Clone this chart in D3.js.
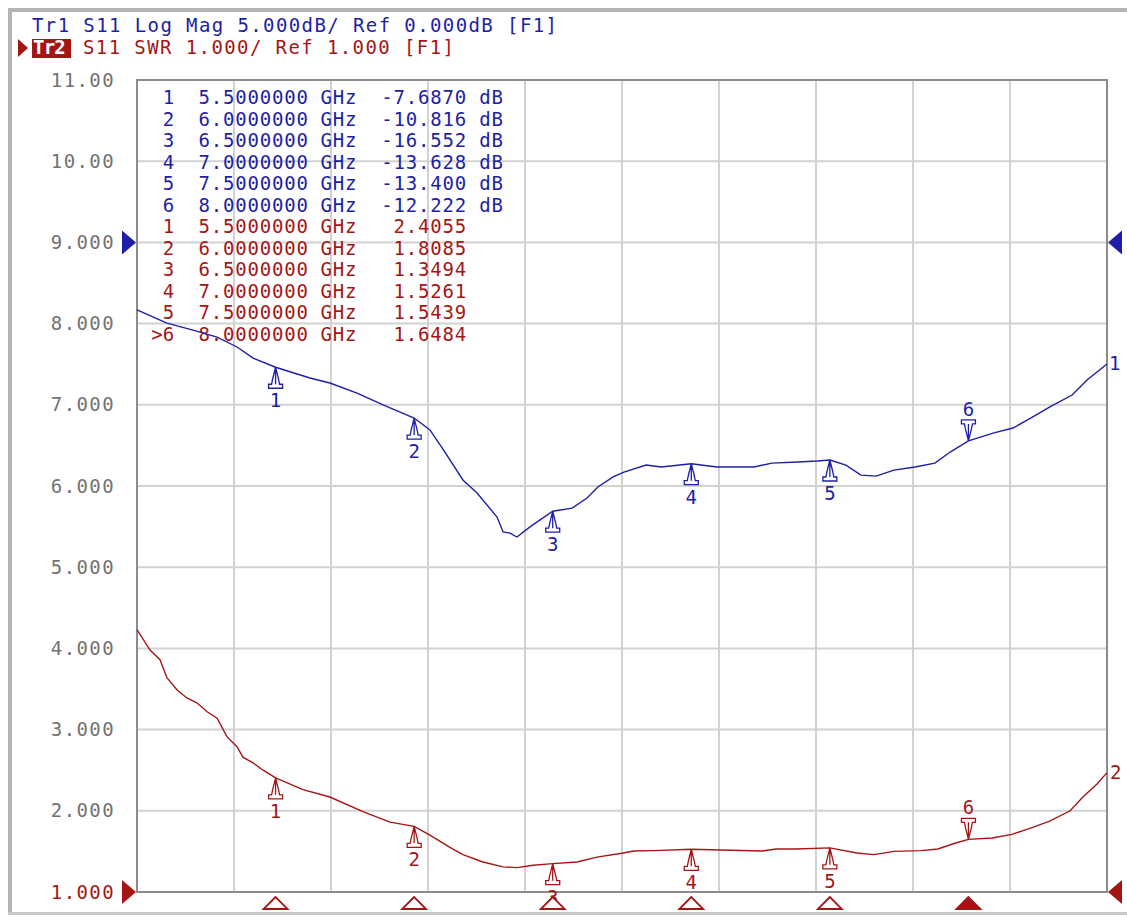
<!DOCTYPE html>
<html>
<head>
<meta charset="utf-8">
<script src="https://cdn.jsdelivr.net/npm/d3@7"></script>
<style>
  body { margin: 0; background: #fff; }
  svg text { font-family: "DejaVu Sans Mono", "Liberation Mono", monospace; white-space: pre; }
</style>
</head>
<body>
<div id="vna"></div>
<script>
const tr1Freq = [5.000, 5.108, 5.202, 5.289, 5.361, 5.419, 5.500, 5.624, 5.696, 5.794, 5.888, 6.000,
  6.057, 6.104, 6.176, 6.227, 6.299, 6.321, 6.346, 6.371, 6.418, 6.500, 6.570, 6.624, 6.663, 6.718,
  6.757, 6.837, 6.891, 7.000, 7.093, 7.226, 7.291, 7.385, 7.454, 7.500, 7.558, 7.612, 7.667, 7.731,
  7.807, 7.879, 7.934, 8.000, 8.092, 8.161, 8.226, 8.294, 8.374, 8.428, 8.500];
const tr1Db = [-4.16, -4.97, -5.40, -5.83, -6.44, -7.12, -7.687, -8.35, -8.66, -9.28, -10.01, -10.816,
  -11.55, -12.73, -14.63, -15.43, -16.91, -17.83, -17.90, -18.14, -17.52, -16.552, -16.36, -15.74, -15.06, -14.44,
  -14.14, -13.71, -13.83, -13.628, -13.83, -13.83, -13.59, -13.52, -13.46, -13.400, -13.71, -14.33, -14.39, -14.02,
  -13.83, -13.59, -12.91, -12.222, -11.73, -11.43, -10.81, -10.13, -9.40, -8.47, -7.49];

// trace 2: S11 SWR
const tr2Freq = [5.000, 5.047, 5.083, 5.108, 5.144, 5.180, 5.216, 5.253, 5.289, 5.325, 5.361, 5.382,
  5.419, 5.455, 5.500, 5.599, 5.696, 5.815, 5.913, 6.000, 6.057, 6.129, 6.176, 6.248, 6.321, 6.371,
  6.429, 6.500, 6.588, 6.660, 6.754, 6.793, 6.865, 7.000, 7.255, 7.306, 7.378, 7.500, 7.598, 7.659,
  7.731, 7.829, 7.890, 7.951, 8.000, 8.085, 8.157, 8.219, 8.291, 8.367, 8.413, 8.464, 8.500];
const tr2Swr = [4.23, 3.98, 3.86, 3.64, 3.49, 3.39, 3.33, 3.22, 3.14, 2.91, 2.79, 2.66,
  2.59, 2.50, 2.4055, 2.26, 2.17, 1.99, 1.86, 1.8085, 1.70, 1.55, 1.46, 1.37, 1.31, 1.30,
  1.33, 1.3494, 1.37, 1.43, 1.48, 1.505, 1.51, 1.5261, 1.505, 1.53, 1.53, 1.5439, 1.48, 1.46,
  1.50, 1.51, 1.53, 1.60, 1.6484, 1.665, 1.71, 1.78, 1.87, 2.00, 2.17, 2.33, 2.47];

// markers
const markerNum = ["1", "2", "3", "4", "5", "6"];
const markerFreq = [5.5, 6.0, 6.5, 7.0, 7.5, 8.0];
const markerFreqText = ["5.5000000", "6.0000000", "6.5000000", "7.0000000", "7.5000000", "8.0000000"];
const markerDb = [-7.6870, -10.816, -16.552, -13.628, -13.400, -12.222];
const markerDbText = ["-7.6870", "-10.816", "-16.552", "-13.628", "-13.400", "-12.222"];
const markerSwr = [2.4055, 1.8085, 1.3494, 1.5261, 1.5439, 1.6484];
const markerSwrText = ["2.4055", "1.8085", "1.3494", "1.5261", "1.5439", "1.6484"];

// left scale (active trace Tr2)
const yTickVals = [1, 2, 3, 4, 5, 6, 7, 8, 9, 10, 11];
const yTickLabels = ["1.000", "2.000", "3.000", "4.000", "5.000", "6.000", "7.000", "8.000", "9.000", "10.00", "11.00"];

const blue = "#1e1ea6", red = "#a41616";
const W = 1127, H = 920;
const pL = 137, pR = 1107, pT = 80, pB = 892;

const svg = d3.select("#vna").append("svg")
  .attr("width", W).attr("height", H);

// outer frame
svg.append("rect").attr("x", 8).attr("y", 8).attr("width", W).attr("height", 4).attr("fill", "#b4b4b4");
svg.append("rect").attr("x", 8).attr("y", 8).attr("width", 4).attr("height", 907).attr("fill", "#b4b4b4");
svg.append("rect").attr("x", 8).attr("y", 912).attr("width", W).attr("height", 3).attr("fill", "#c8c8c8");

const x = d3.scaleLinear().domain([5, 8.5]).range([pL, pR]);
const ySwr = d3.scaleLinear().domain([1, 11]).range([pB, pT]);
const yDb = d3.scaleLinear().domain([-40, 10]).range([pB, pT]);  // 5 dB/div, ref 0 dB at div 8

// grid
const g = svg.append("g");
g.selectAll(".vg").data(d3.range(1, 10)).join("line")
  .attr("x1", i => x(5 + i * 0.35)).attr("x2", i => x(5 + i * 0.35))
  .attr("y1", pT).attr("y2", pB)
  .attr("stroke", "#d2d2d2").attr("stroke-width", 2);
g.selectAll(".hg").data(yTickVals.slice(1, 10)).join("line")
  .attr("y1", d => ySwr(d)).attr("y2", d => ySwr(d))
  .attr("x1", pL).attr("x2", pR)
  .attr("stroke", "#d2d2d2").attr("stroke-width", 2);
g.append("rect").attr("x", pL).attr("y", pT).attr("width", pR - pL).attr("height", pB - pT)
  .attr("fill", "none").attr("stroke", "#8c8c8c").attr("stroke-width", 2);

// left labels
const yAxis = svg.append("g").attr("transform", `translate(${pL - 22},0)`)
  .call(d3.axisLeft(ySwr).tickValues(yTickVals).tickFormat((d, i) => yTickLabels[i]).tickSize(0).tickPadding(0));
yAxis.select(".domain").remove();
yAxis.selectAll("text")
  .style("font-family", "DejaVu Sans Mono, monospace").style("font-size", "19px")
  .style("letter-spacing", "1.4px")
  .attr("fill", d => d === 1 ? red : "#727272");

// header
svg.append("text").attr("x", 32).attr("y", 32).attr("fill", blue)
  .style("font-size", "19px").style("letter-spacing", "1.4px")
  .text("Tr1 S11 Log Mag 5.000dB/ Ref 0.000dB [F1]");
svg.append("path").attr("d", "M18,39 L28,48 L18,57 Z").attr("fill", red);
svg.append("rect").attr("x", 32).attr("y", 39).attr("width", 39).attr("height", 19).attr("fill", red);
svg.append("text").attr("x", 33).attr("y", 54).attr("fill", "#fff")
  .style("font-size", "19px").style("font-weight", "bold").style("letter-spacing", "-0.8px").text("Tr2");
svg.append("text").attr("x", 83).attr("y", 54).attr("fill", red)
  .style("font-size", "19px").style("letter-spacing", "1.4px")
  .text("S11 SWR 1.000/ Ref 1.000 [F1]");

// marker table
const cw = 12.2, col0 = 162, rowH = 21.5, row0 = 104;
function tableRow(i, color, num, f, val, unit) {
  const yy = row0 + i * rowH;
  const t = svg.append("g").attr("fill", color).style("font-size", "19px");
  t.append("text").attr("x", col0 + cw).attr("y", yy).attr("text-anchor", "end").text(num);
  t.append("text").attr("x", col0 + 3 * cw).attr("y", yy).style("letter-spacing", "0.8px").text(f);
  t.append("text").attr("x", col0 + 13 * cw).attr("y", yy).style("letter-spacing", "0.8px").text("GHz");
  t.append("text").attr("x", col0 + 25 * cw).attr("y", yy).attr("text-anchor", "end").style("letter-spacing", "0.8px").text(val);
  if (unit) t.append("text").attr("x", col0 + 26 * cw).attr("y", yy).style("letter-spacing", "0.8px").text(unit);
}
markerNum.forEach((m, i) => tableRow(i, blue, m, markerFreqText[i], markerDbText[i], "dB"));
markerNum.forEach((m, i) => tableRow(i + 6, red, i === 5 ? ">" + m : m, markerFreqText[i], markerSwrText[i], null));

// traces
const line1 = d3.line().x(d => x(d[0])).y(d => yDb(d[1]));
const line2 = d3.line().x(d => x(d[0])).y(d => ySwr(d[1]));
svg.append("path").datum(d3.zip(tr1Freq, tr1Db)).attr("d", line1)
  .attr("fill", "none").attr("stroke", blue).attr("stroke-width", 1.4);
svg.append("path").datum(d3.zip(tr2Freq, tr2Swr)).attr("d", line2)
  .attr("fill", "none").attr("stroke", red).attr("stroke-width", 1.4);

// trace end labels
svg.append("text").attr("x", x(8.5) + 2).attr("y", yDb(tr1Db[tr1Db.length - 1]) + 6)
  .attr("fill", blue).style("font-size", "19px").text("1");
svg.append("text").attr("x", x(8.5) + 3).attr("y", ySwr(tr2Swr[tr2Swr.length - 1]) + 6)
  .attr("fill", red).style("font-size", "19px").text("2");

// marker symbols on traces
const mkUp = "M0,0 L-3,12 L-4,17 L-7,17 L-7,21 L7,21 L7,17 L4,17 L3,12 Z M0,3 L0,17";
const mkDown = "M0,0 L-3,-12 L-4,-17 L-7,-17 L-7,-21 L7,-21 L7,-17 L4,-17 L3,-12 Z M0,-3 L0,-17";
function drawMarkers(vals, yScale, color) {
  vals.forEach((v, i) => {
    const px = x(markerFreq[i]), py = yScale(v);
    const up = i < 5;
    svg.append("path").attr("d", up ? mkUp : mkDown)
      .attr("transform", `translate(${px},${py})`)
      .attr("fill", "none").attr("stroke", color).attr("stroke-width", 1.3);
    svg.append("text").attr("x", px).attr("y", up ? py + 40 : py - 25)
      .attr("text-anchor", "middle").attr("fill", color).style("font-size", "19px").text(markerNum[i]);
  });
}
drawMarkers(markerDb, yDb, blue);
drawMarkers(markerSwr, ySwr, red);

// stimulus markers below the grid
markerFreq.forEach((f, i) => {
  const px = x(f);
  svg.append("path").attr("d", `M${px},${pB + 5} L${px - 12},${pB + 17} L${px + 12},${pB + 17} Z`)
    .attr("fill", i === 5 ? red : "#fff").attr("stroke", red).attr("stroke-width", 1.8);
});

// reference position arrows
function refArrow(yy, color) {
  svg.append("path").attr("d", `M${pL - 15},${yy - 12} L${pL - 1},${yy} L${pL - 15},${yy + 12} Z`).attr("fill", color);
  svg.append("path").attr("d", `M${pR + 15},${yy - 12} L${pR + 1},${yy} L${pR + 15},${yy + 12} Z`).attr("fill", color);
}
refArrow(yDb(0), blue);
refArrow(ySwr(1), red);
</script>
</body>
</html>
